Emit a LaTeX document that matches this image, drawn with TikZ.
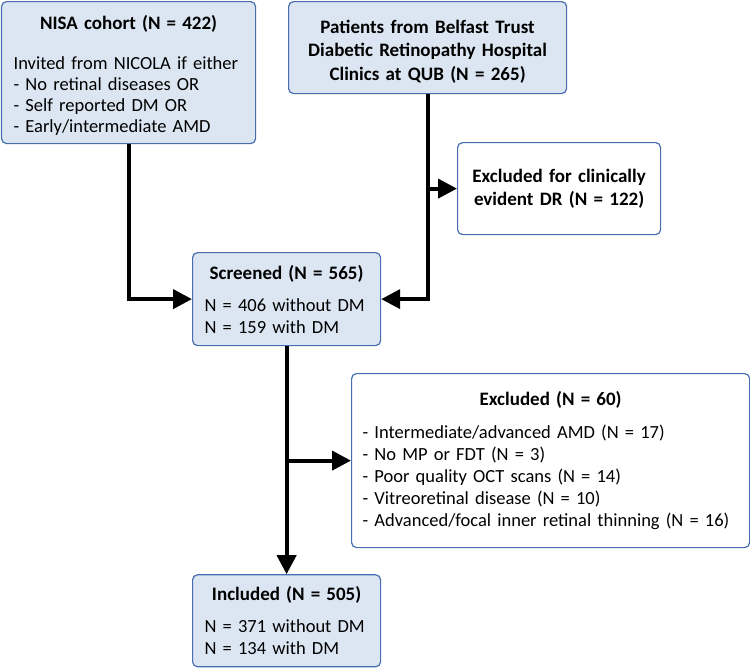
\documentclass[tikz,border=0pt]{standalone}
\usepackage{fontspec}
\setmainfont{Carlito}
\usepackage{xcolor}
\definecolor{boxfill}{RGB}{220,230,242}
\definecolor{boxline}{RGB}{70,110,175}
\usetikzlibrary{arrows.meta, positioning}
\newcommand{\boxhead}[1]{\makebox[\linewidth]{\fontsize{19}{22}\selectfont\bfseries #1}}

\begin{document}
\begin{tikzpicture}[
    x=1pt, y=-1pt,
    every node/.style={font=\fontsize{18.5}{22}\selectfont, execute at begin node={\hyphenpenalty=10000\relax}},
    cohort/.style={rectangle, rounded corners=5pt, draw=boxline, line width=1.2pt, fill=boxfill, inner xsep=12pt, inner ysep=0pt, align=left},
    exclusion/.style={cohort, fill=white},
    heading/.style={align=center, font=\fontsize{19}{23.5}\selectfont\bfseries},
    arrow/.style={-{Triangle[length=19pt, width=19pt]}, line width=4pt}
]
\useasboundingbox (0,0) rectangle (750,667);

% Nodes
\node[cohort, anchor=north west, text width=230pt, minimum height=142pt] (nisa) at (1,1) {\boxhead{\rule{0pt}{20pt}NISA cohort (N = 422)}\\[18pt] Invited from NICOLA if either\\[-1pt] - No retinal diseases OR\\[-1pt] - Self reported DM OR\\[-1pt] - Early/intermediate AMD};
\node[cohort, heading, anchor=north west, text width=254pt, minimum height=92pt] (patients) at (288,1) {\rule{0pt}{21pt}Patients from Belfast Trust\\ Diabetic Retinopathy Hospital\\ Clinics at QUB (N = 265)};
\node[exclusion, heading, anchor=north west, text width=179pt, minimum height=92pt] (dr) at (457,142) {Excluded for clinically\\ evident DR (N = 122)};
\node[cohort, anchor=north west, text width=164pt, minimum height=93pt] (screened) at (192,252) {\boxhead{Screened (N = 565)}\\[10pt] N = 406 without DM\\ N = 159 with DM};
\node[exclusion, anchor=north west, text width=376pt, inner xsep=11pt, minimum height=174pt] (excl) at (351,373) {\boxhead{Excluded (N = 60)}\\[11pt] - Intermediate/advanced AMD (N = 17)\\ - No MP or FDT (N = 3)\\ - Poor quality OCT scans (N = 14)\\ - Vitreoretinal disease (N = 10)\\ - Advanced/focal inner retinal thinning (N = 16)};
\node[cohort, below=228pt of screened, text width=164pt, minimum height=92pt] (included) {\boxhead{Included (N = 505)}\\[10pt] N = 371 without DM\\ N = 134 with DM};

% Connections
\draw[arrow] (nisa) |- (screened);
\draw[arrow] (patients) |- (screened);
\draw[arrow] (patients.south |- dr.west) -- (dr);
\draw[arrow] (screened) -- (included);
\draw[arrow] (screened.south |- excl.west) -- (excl);

\end{tikzpicture}
\end{document}
